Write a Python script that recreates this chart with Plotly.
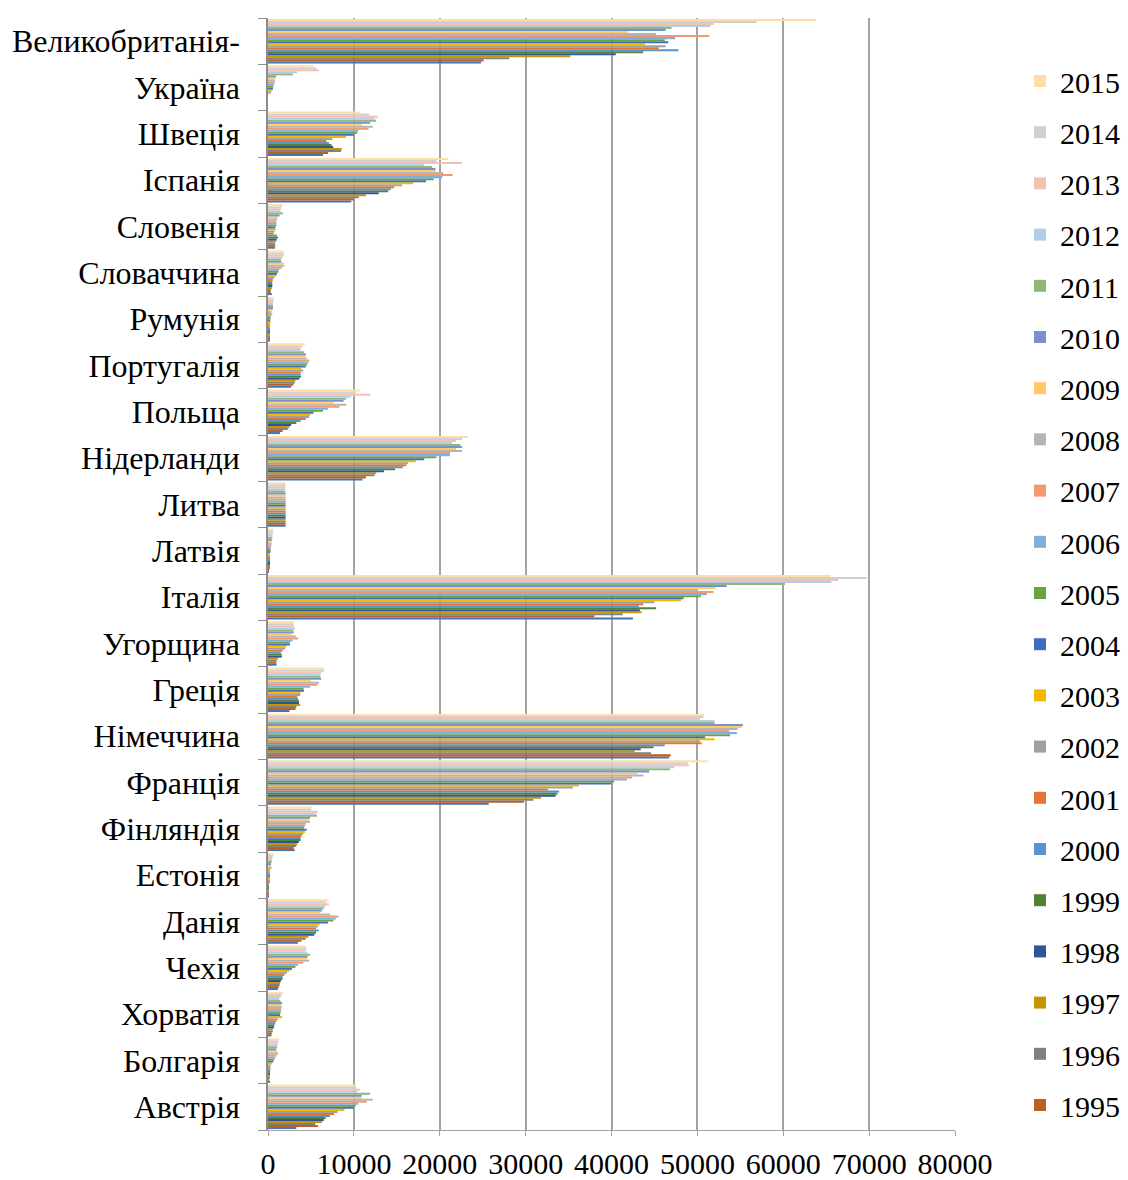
import plotly.graph_objects as go

# Years of the series; the earliest one is drawn but kept out of the legend
years = [1994, 1995, 1996, 1997, 1998, 1999, 2000, 2001, 2002, 2003, 2004,
         2005, 2006, 2007, 2008, 2009, 2010, 2011, 2012, 2013, 2014, 2015]

# Countries, bottom to top of the chart
countries = ["Австрія", "Болгарія", "Хорватія", "Чехія", "Данія", "Естонія",
             "Фінляндія", "Франція", "Німеччина", "Греція", "Угорщина",
             "Італія", "Латвія", "Литва", "Нідерланди", "Польща",
             "Португалія", "Румунія", "Словаччина", "Словенія", "Іспанія",
             "Швеція", "Україна", "Великобританія-"]

# Values per country, 1994 .. 2015
austria = [3300, 5800, 5500, 6300, 6500, 6700, 7200, 7700, 8100, 8900, 10000,
           10200, 10500, 11500, 12200, 10900, 10900, 11900, 10400, 10700, 10300, 10200]
bulgaria = [200, 100, 120, 150, 200, 230, 270, 280, 300, 450, 600,
            750, 850, 1000, 1200, 1100, 950, 1050, 1100, 1150, 1200, 1300]
croatia = [400, 450, 550, 550, 700, 750, 850, 950, 1150, 1650, 1400,
           1450, 1500, 1550, 1600, 1550, 1650, 1450, 1300, 1450, 1600, 1750]
czechia = [1150, 1250, 1350, 1400, 1500, 1700, 1700, 1900, 2200, 2500, 2800,
           3200, 3500, 4100, 4800, 4600, 4600, 4900, 4600, 4400, 4500, 4400]
denmark = [3500, 3900, 4400, 4700, 5400, 5600, 5900, 5600, 5800, 6000, 7000,
           7600, 7900, 8200, 7200, 6100, 6300, 6500, 6700, 7100, 6800, 7000]
estonia = [80, 80, 80, 80, 80, 80, 110, 120, 150, 160, 160,
           200, 230, 270, 430, 390, 350, 430, 470, 510, 580, 660]
finland = [3100, 3000, 3300, 3400, 3600, 3800, 3800, 3900, 4100, 4300, 4500,
           4200, 4300, 4400, 4900, 4800, 4900, 5700, 5600, 5800, 5000, 5100]
france = [25700, 29800, 30900, 31800, 33500, 33700, 33900, 32600, 35500, 36200, 40000,
          40300, 41800, 42400, 43700, 43000, 44400, 46800, 47300, 49000, 48900, 51200]
germany = [46700, 46900, 44600, 42700, 43400, 44900, 46200, 50500, 50300, 52000, 50900,
           53800, 54600, 53700, 54700, 55200, 55300, 52000, 52000, 50300, 50700, 50800]
greece = [2500, 3200, 3300, 3750, 3600, 3600, 3500, 3400, 3750, 3800, 4200,
          4150, 4900, 5750, 5950, 5000, 6200, 6100, 6100, 6200, 6500, 6500]
hungary = [1000, 970, 1000, 1150, 1600, 1600, 1500, 1700, 2000, 2100, 2550,
           2550, 2850, 3500, 3250, 2750, 3000, 2950, 3150, 3000, 3000, 3000]
italy = [42500, 38000, 41300, 43500, 43300, 45200, 43200, 43700, 45000, 48100, 48400,
         50400, 51100, 51900, 50000, 52100, 53400, 60200, 65600, 66400, 69700, 65500]
latvia = [100, 100, 120, 150, 150, 180, 200, 200, 220, 250, 280,
          300, 330, 380, 420, 420, 450, 500, 520, 550, 580, 600]
lithuania = [2050, 2050, 2050, 2050, 2050, 2050, 2050, 2050, 2050, 2050, 2050,
             2050, 2050, 2050, 2050, 2050, 2050, 2000, 2000, 2000, 2050, 2050]
netherlands = [11000, 11400, 12400, 12600, 13500, 14800, 15700, 16100, 16300, 17200, 18200,
               19600, 21200, 21200, 22600, 21900, 22600, 22400, 21400, 21900, 22600, 23300]
poland = [1400, 1700, 2300, 2500, 2700, 3300, 3800, 4400, 4800, 4900, 5300,
          6400, 7000, 8300, 9100, 7600, 8800, 9100, 9700, 11900, 10200, 10700]
portugal = [2700, 2950, 3100, 3200, 3650, 3850, 3800, 3800, 4100, 3900, 4400,
            4550, 4700, 4800, 4500, 4400, 4400, 4200, 3800, 3800, 4000, 4300]
romania = [150, 120, 200, 200, 200, 230, 150, 230, 200, 350, 230,
           300, 350, 500, 400, 500, 580, 580, 580, 600, 650, 650]
slovakia = [450, 300, 350, 450, 500, 500, 500, 550, 700, 950, 1050,
            1200, 1300, 1600, 1900, 1850, 1550, 1500, 1650, 1800, 1850, 1800]
slovenia = [800, 850, 800, 900, 1000, 1150, 1050, 650, 750, 900, 850,
            950, 1000, 950, 1050, 1150, 1350, 1750, 1450, 1500, 1600, 1700]
spain = [9700, 10000, 10600, 11400, 12900, 14000, 14300, 14700, 15600, 16900, 18400,
         19300, 20300, 21500, 20400, 19500, 19500, 19100, 18200, 22600, 19600, 21000]
sweden = [6400, 7000, 8500, 8600, 7600, 7400, 7100, 6800, 7500, 9100, 10000,
          10400, 10500, 11700, 12200, 10900, 11900, 12600, 12400, 12800, 11800, 10700]
ukraine = [None, None, None, None, None, None, None, None, 350, 510, 580,
           620, 740, 780, 820, 850, 930, 2900, 3400, 5950, 5600, 5300]
uk = [24800, 25100, 28100, 35200, 40500, 43700, 47800, 45500, 46300, 43900, 46600,
      46200, 47400, 51400, 45200, 41900, 46300, 47000, 51500, 51900, 56900, 63800]

rows = [austria, bulgaria, croatia, czechia, denmark, estonia, finland, france,
        germany, greece, hungary, italy, latvia, lithuania, netherlands, poland,
        portugal, romania, slovakia, slovenia, spain, sweden, ukraine, uk]

colors = ["#4275B6", "#BE5E22", "#808080", "#C79500", "#30539A", "#538135",
          "#5794CB", "#E57430", "#A0A0A0", "#F2B800", "#426DBF", "#6AA244",
          "#80AEDD", "#F09A70", "#B5B5B5", "#FFC966", "#7B91CF", "#8DB97A",
          "#B4CCE8", "#F4C0B0", "#D0D0D0", "#FFDDA8"]

FONT = "Liberation Serif"

fig = go.Figure()
for j, yr in enumerate(years):
    fig.add_trace(go.Bar(
        name=str(yr),
        y=countries,
        x=[r[j] for r in rows],
        orientation="h",
        marker=dict(color=colors[j], line=dict(width=0)),
        legendgroup=str(yr),
        legendrank=3000 - yr,
        showlegend=(yr != 1994),
        hoverinfo="x+y+name",
    ))

fig.update_layout(
    width=1128, height=1180,
    margin=dict(l=268, r=173, t=18, b=50),
    paper_bgcolor="white", plot_bgcolor="white",
    barmode="group", bargap=0.04, bargroupgap=0,
    font=dict(family=FONT, color="black"),
    xaxis=dict(
        range=[0, 80000], dtick=10000, tick0=0, tickformat="d",
        showgrid=True, gridcolor="#A3A3A3", gridwidth=1.5,
        zeroline=False, showline=True, linecolor="#A3A3A3", linewidth=1,
        ticks="outside", ticklen=5, tickcolor="#A3A3A3",
        tickfont=dict(family=FONT, size=30, color="black"),
        automargin=False, ticklabelstandoff=2,
    ),
    yaxis=dict(
        type="category", categoryorder="array", categoryarray=countries,
        showgrid=False, zeroline=False,
        showline=True, linecolor="#8C8C8C", linewidth=1.5,
        ticks="outside", tickson="boundaries", ticklen=8, tickcolor="#8C8C8C",
        tickfont=dict(family=FONT, size=32, color="black"),
        ticklabelstandoff=20, automargin=False,
    ),
    legend=dict(
        xref="container", yref="container",
        x=1020 / 1128, y=1 - 55 / 1180, xanchor="left", yanchor="top",
        traceorder="grouped", tracegroupgap=9.2, maxheight=1180,
        font=dict(family=FONT, size=30, color="black"),
        bgcolor="rgba(0,0,0,0)",
    ),
)

fig.write_html("out.html")
